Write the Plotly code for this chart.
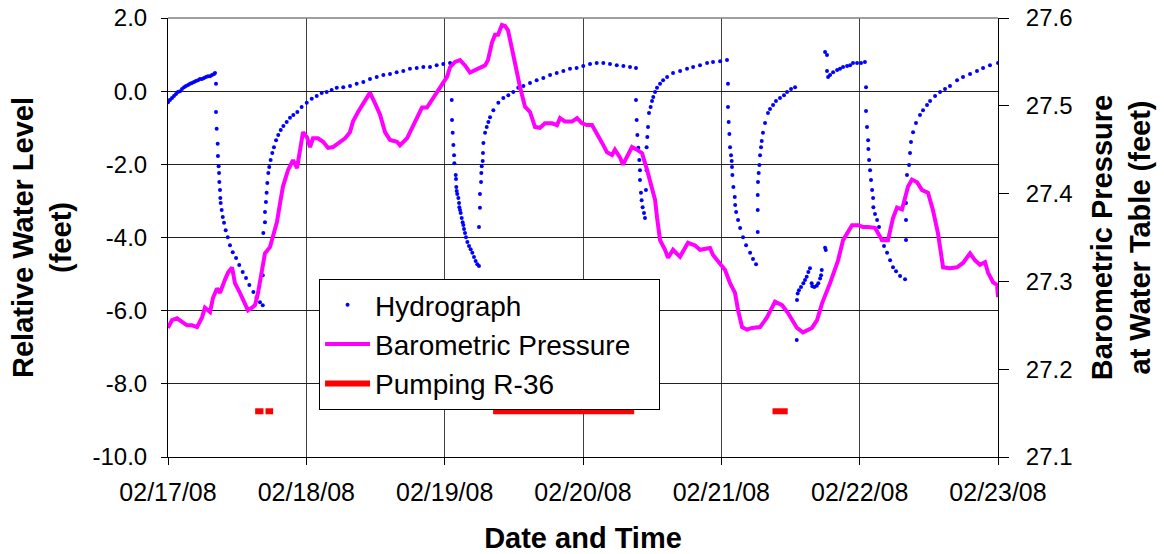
import pandas as pd
import plotly.graph_objects as go

# ---------------- data (days since 02/17/08 00:00) ----------------
hydro_day = [
    0.000, 0.014, 0.029, 0.043, 0.058, 0.072, 0.087, 0.101, 0.116, 0.130, 0.145, 0.159, 0.173, 0.188,
    0.202, 0.217, 0.231, 0.246, 0.260, 0.275, 0.289, 0.304, 0.318, 0.333, 0.340,
    0.347, 0.347, 0.352, 0.359, 0.361, 0.366, 0.369, 0.371, 0.376, 0.378, 0.381, 0.388, 0.396, 0.405,
    0.417, 0.432, 0.448, 0.468, 0.492, 0.515, 0.540, 0.564, 0.588, 0.617, 0.641, 0.665, 0.685,
    0.685, 0.689, 0.701, 0.701, 0.708, 0.713, 0.718, 0.725, 0.732, 0.742, 0.754, 0.766, 0.781, 0.797,
    0.815, 0.834, 0.858, 0.882, 0.906, 0.935, 0.966, 1.003, 1.039, 1.075, 1.111, 1.147, 1.183, 1.220,
    1.267, 1.316, 1.364, 1.412, 1.460, 1.509, 1.557, 1.605, 1.653, 1.701, 1.749, 1.798, 1.846, 1.894,
    1.942, 1.990, 2.039,
    2.051, 2.053, 2.058, 2.063, 2.068, 2.070, 2.080, 2.082, 2.084, 2.087, 2.091, 2.099, 2.104, 2.106,
    2.111, 2.116, 2.123, 2.130, 2.135, 2.140, 2.147, 2.154, 2.164, 2.176, 2.188, 2.200, 2.212, 2.224,
    2.236, 2.248,
    2.248, 2.255, 2.255, 2.263, 2.265, 2.268, 2.275, 2.277, 2.280, 2.292, 2.304, 2.316, 2.328, 2.352,
    2.388, 2.424, 2.460, 2.496, 2.532, 2.569, 2.617, 2.665, 2.713, 2.762, 2.810, 2.858, 2.906, 2.954,
    3.002, 3.051, 3.099, 3.147, 3.195, 3.244, 3.292, 3.340, 3.383,
    3.383, 3.388, 3.393, 3.400, 3.407, 3.412, 3.412, 3.419, 3.424, 3.431, 3.441, 3.448,
    3.455, 3.460, 3.460, 3.465, 3.470, 3.477, 3.489, 3.499, 3.508, 3.521, 3.535, 3.557, 3.579, 3.608,
    3.651, 3.702, 3.752, 3.796, 3.846, 3.897, 3.940, 3.991, 4.041,
    4.048, 4.048, 4.053, 4.058, 4.063, 4.070, 4.075, 4.077, 4.080, 4.087, 4.097, 4.100, 4.107, 4.121,
    4.136, 4.157, 4.179, 4.208, 4.229, 4.251,
    4.263, 4.263, 4.263, 4.265, 4.270, 4.275, 4.280, 4.287, 4.292, 4.301, 4.316, 4.337, 4.352, 4.374,
    4.395, 4.424, 4.453, 4.475, 4.504, 4.533,
    4.545, 4.547, 4.552, 4.561, 4.576, 4.593, 4.605, 4.617, 4.629, 4.641, 4.653, 4.658, 4.672, 4.690,
    4.701, 4.714, 4.721, 4.726, 4.750, 4.755,
    4.750, 4.764, 4.764, 4.772, 4.786, 4.808, 4.837, 4.858, 4.880, 4.909, 4.931, 4.952, 4.981, 5.010,
    5.038,
    5.046, 5.046, 5.053, 5.061, 5.063, 5.068, 5.075, 5.082, 5.090, 5.097, 5.099, 5.111, 5.126, 5.140,
    5.162, 5.176, 5.198, 5.220, 5.241, 5.263, 5.292, 5.328,
    5.335, 5.335, 5.335, 5.342, 5.357, 5.364, 5.371, 5.386, 5.407, 5.436, 5.458, 5.487, 5.509, 5.545,
    5.581, 5.617, 5.653, 5.704, 5.747, 5.798, 5.848, 5.892, 5.942, 6.000,
]
hydro_ft = [
    -0.30, -0.24, -0.19, -0.13, -0.08, -0.02, 0.00, 0.06, 0.11, 0.14, 0.17, 0.20, 0.22, 0.25,
    0.28, 0.30, 0.33, 0.33, 0.36, 0.39, 0.41, 0.41, 0.44, 0.47, 0.50,
    0.20, -0.57, -1.03, -1.44, -1.77, -2.05, -2.24, -2.48, -2.70, -2.92, -3.06, -3.25, -3.44, -3.60,
    -3.80, -3.99, -4.21, -4.40, -4.56, -4.75, -4.94, -5.11, -5.30, -5.49, -5.63, -5.77, -5.85,
    -5.03, -3.88, -3.58, -3.30, -3.03, -2.78, -2.51, -2.24, -2.07, -1.88, -1.69, -1.53, -1.34, -1.20,
    -1.06, -0.95, -0.84, -0.73, -0.65, -0.57, -0.43, -0.32, -0.21, -0.13, -0.05, -0.02, 0.03, 0.09,
    0.11, 0.14, 0.20, 0.25, 0.33, 0.39, 0.44, 0.47, 0.52, 0.55, 0.61, 0.63, 0.66, 0.66,
    0.71, 0.74, 0.77,
    -0.24, -0.79, -1.14, -1.47, -1.75, -1.97, -2.29, -2.40, -2.62, -2.73, -2.81, -2.92, -3.06, -3.17,
    -3.25, -3.33, -3.47, -3.58, -3.66, -3.77, -3.88, -3.99, -4.12, -4.23, -4.32, -4.42, -4.53, -4.64,
    -4.73, -4.78,
    -3.71, -3.19, -2.81, -2.48, -2.24, -2.05, -1.91, -1.69, -1.42, -1.14, -0.98, -0.84, -0.71, -0.52,
    -0.32, -0.19, -0.11, -0.02, 0.09, 0.14, 0.22, 0.30, 0.36, 0.44, 0.50, 0.55, 0.61, 0.63,
    0.69, 0.74, 0.77, 0.77, 0.74, 0.71, 0.69, 0.66, 0.63,
    -0.24, -0.79, -1.20, -1.55, -1.88, -2.16, -2.43, -2.78, -2.98, -3.17, -3.33, -3.47,
    -2.70, -2.16, -1.53, -1.25, -0.98, -0.60, -0.43, -0.27, -0.16, -0.02, 0.09, 0.20, 0.30, 0.39,
    0.50, 0.55, 0.61, 0.66, 0.71, 0.77, 0.80, 0.82, 0.85,
    0.20, -0.43, -0.84, -1.17, -1.53, -1.75, -1.91, -2.07, -2.29, -2.62, -2.89, -3.11, -3.30, -3.52,
    -3.74, -3.99, -4.21, -4.42, -4.59, -4.73,
    -3.85, -3.25, -2.84, -2.48, -2.24, -2.02, -1.75, -1.53, -1.36, -1.14, -0.87, -0.60, -0.49, -0.38,
    -0.27, -0.19, -0.11, -0.02, 0.06, 0.11,
    -6.80, -5.71, -5.53, -5.44, -5.35, -5.25, -5.16, -5.07, -4.94, -4.84, -5.25, -5.33, -5.35, -5.32,
    -5.25, -5.12, -5.03, -4.89, -4.28, -4.34,
    1.07, 0.99, 0.55, 0.39, 0.44, 0.52, 0.58, 0.61, 0.66, 0.69, 0.71, 0.77, 0.77, 0.77,
    0.80,
    0.11, -0.54, -0.98, -1.34, -1.58, -1.88, -2.16, -2.43, -2.70, -2.92, -3.17, -3.36, -3.52, -3.71,
    -4.07, -4.23, -4.42, -4.62, -4.81, -4.92, -5.05, -5.14,
    -4.07, -3.52, -3.06, -2.29, -2.02, -1.69, -1.39, -1.12, -0.87, -0.65, -0.52, -0.38, -0.27, -0.13,
    -0.02, 0.06, 0.14, 0.30, 0.39, 0.47, 0.55, 0.63, 0.71, 0.77,
]

baro_day = [
    0.000, 0.029, 0.065, 0.101, 0.137, 0.173, 0.210, 0.246, 0.267, 0.304, 0.325, 0.354, 0.376, 0.412,
    0.434, 0.463, 0.484, 0.520, 0.557, 0.578, 0.607, 0.629, 0.651, 0.680, 0.701, 0.737, 0.759, 0.788,
    0.810, 0.831, 0.868, 0.904, 0.933, 0.954, 0.976, 1.005, 1.027, 1.048, 1.084, 1.121, 1.157, 1.193,
    1.243, 1.280, 1.316, 1.337, 1.374, 1.410, 1.460, 1.496, 1.533, 1.569, 1.605, 1.655, 1.677, 1.728,
    1.764, 1.800, 1.836, 1.872, 1.908, 1.945, 1.981, 2.017, 2.039, 2.075, 2.111, 2.147, 2.183, 2.219,
    2.255, 2.292, 2.313, 2.342, 2.364, 2.386, 2.414, 2.436, 2.458, 2.487, 2.508, 2.545, 2.581, 2.617,
    2.653, 2.689, 2.725, 2.776, 2.812, 2.834, 2.870, 2.921, 2.957, 2.993, 3.029, 3.065, 3.101, 3.137,
    3.174, 3.210, 3.231, 3.268, 3.289, 3.318, 3.354, 3.390, 3.427, 3.463, 3.499, 3.521, 3.535, 3.557,
    3.593, 3.615, 3.651, 3.701, 3.759, 3.810, 3.846, 3.918, 3.940, 3.990, 4.027, 4.063, 4.099, 4.121,
    4.150, 4.186, 4.222, 4.280, 4.330, 4.388, 4.439, 4.482, 4.547, 4.590, 4.655, 4.692, 4.728, 4.786,
    4.844, 4.880, 4.945, 4.988, 5.024, 5.060, 5.111, 5.162, 5.205, 5.241, 5.270, 5.306, 5.328, 5.350,
    5.378, 5.415, 5.451, 5.494, 5.530, 5.566, 5.603, 5.653, 5.704, 5.747, 5.798, 5.834, 5.870, 5.906,
    5.928, 5.964, 5.993, 6.000,
]
baro_ft = [
    27.247, 27.256, 27.258, 27.254, 27.250, 27.250, 27.248, 27.259, 27.270, 27.265, 27.281, 27.292,
    27.287, 27.302, 27.310, 27.316, 27.298, 27.287, 27.275, 27.267, 27.270, 27.273, 27.287, 27.310,
    27.332, 27.339, 27.351, 27.368, 27.389, 27.408, 27.427, 27.438, 27.429, 27.450, 27.470, 27.464,
    27.453, 27.463, 27.463, 27.459, 27.452, 27.453, 27.458, 27.463, 27.470, 27.482, 27.493, 27.503,
    27.515, 27.503, 27.490, 27.470, 27.461, 27.459, 27.455, 27.463, 27.475, 27.486, 27.498, 27.498,
    27.507, 27.516, 27.524, 27.533, 27.544, 27.550, 27.552, 27.546, 27.538, 27.541, 27.544, 27.546,
    27.552, 27.572, 27.581, 27.581, 27.592, 27.591, 27.586, 27.567, 27.549, 27.521, 27.499, 27.493,
    27.476, 27.475, 27.480, 27.480, 27.478, 27.486, 27.482, 27.482, 27.486, 27.480, 27.478, 27.478,
    27.469, 27.458, 27.447, 27.444, 27.450, 27.441, 27.433, 27.442, 27.453, 27.450, 27.446, 27.427,
    27.408, 27.393, 27.373, 27.347, 27.336, 27.327, 27.336, 27.328, 27.344, 27.341, 27.336, 27.338,
    27.330, 27.321, 27.313, 27.298, 27.287, 27.267, 27.248, 27.245, 27.247, 27.248, 27.259, 27.277,
    27.273, 27.264, 27.247, 27.242, 27.247, 27.256, 27.275, 27.298, 27.324, 27.347, 27.364, 27.364,
    27.362, 27.362, 27.361, 27.347, 27.347, 27.372, 27.384, 27.382, 27.396, 27.408, 27.416, 27.413,
    27.404, 27.401, 27.381, 27.355, 27.316, 27.315, 27.316, 27.321, 27.332, 27.324, 27.319, 27.322,
    27.310, 27.299, 27.296, 27.282,
]

pump_start = [0.630, 0.705, 2.350, 4.370]
pump_end = [0.690, 0.760, 3.370, 4.480]
pump_level = -8.75

y_ticks = [-10, -8, -6, -4, -2, 0, 2]
y2_ticks = [27.1, 27.2, 27.3, 27.4, 27.5, 27.6]

start = pd.Timestamp("2008-02-17")


def to_dt(days):
    return [None if d is None else start + pd.Timedelta(days=d) for d in days]


pump_x, pump_y = [], []
for s, e in zip(pump_start, pump_end):
    pump_x += [s, e, None]
    pump_y += [pump_level, pump_level, None]

FONT = "Arial, Liberation Sans, sans-serif"
NBSP = "\u00a0"

fig = go.Figure()
fig.add_trace(go.Scatter(
    x=to_dt(hydro_day), y=hydro_ft, mode="markers", name="Hydrograph",
    marker=dict(color="#0000FF", size=4, line=dict(width=0)),
))
fig.add_trace(go.Scatter(
    x=to_dt(baro_day), y=baro_ft, mode="lines", name="Barometric Pressure" + NBSP * 3, yaxis="y2",
    line=dict(color="#FF00FF", width=4),
))
fig.add_trace(go.Scatter(
    x=to_dt(pump_x), y=pump_y, mode="lines", name="Pumping R-36",
    line=dict(color="#FF0000", width=6), connectgaps=False,
))

fig.update_layout(
    width=1164, height=554,
    margin=dict(l=168, r=166, t=18, b=97, autoexpand=False),
    paper_bgcolor="white", plot_bgcolor="white",
    font=dict(family=FONT, size=24, color="black"),
    showlegend=True,
    legend=dict(
        x=0.182, y=0.4055, xanchor="left", yanchor="top",
        bgcolor="white", bordercolor="black", borderwidth=1,
        font=dict(family=FONT, size=28, color="black"),
        tracegroupgap=0, itemwidth=45,
    ),
    xaxis=dict(
        type="date", automargin=False,
        range=[start, start + pd.Timedelta(days=6)],
        dtick=86400000, tick0=start, tickformat="%m/%d/%y",
        showgrid=True, gridcolor="#404040", gridwidth=1,
        showline=True, linecolor="black", linewidth=1,
        ticks="outside", ticklen=7, tickcolor="black",
        ticklabelstandoff=6,
        tickfont=dict(family=FONT, size=25),
        title=dict(text="<b>Date and Time</b>", font=dict(family=FONT, size=29), standoff=25),
        zeroline=False,
    ),
    yaxis=dict(
        automargin=False,
        range=[-10, 2], tickvals=y_ticks, ticktext=[f"{v:.1f}" for v in y_ticks],
        showgrid=True, gridcolor="#202020", gridwidth=1,
        showline=True, linecolor="black", linewidth=1,
        ticks="outside", ticklen=6, tickcolor="black",
        ticklabelstandoff=9,
        tickfont=dict(family=FONT, size=24),
        title=dict(text="<b>Relative Water Level<br>(feet)</b>", font=dict(family=FONT, size=29), standoff=12),
        zeroline=False,
    ),
    yaxis2=dict(
        overlaying="y", side="right", automargin=False,
        range=[27.1, 27.6], tickvals=y2_ticks, ticktext=[f"{v:.1f}" for v in y2_ticks],
        showgrid=False,
        showline=True, linecolor="black", linewidth=1,
        ticks="outside", ticklen=10, tickcolor="black",
        ticklabelstandoff=12,
        tickfont=dict(family=FONT, size=24),
        title=dict(text="<b>Barometric Pressure<br>at Water Table (feet)</b>", font=dict(family=FONT, size=29), standoff=20),
        zeroline=False,
    ),
)

# top border of plot area
fig.add_shape(type="line", xref="paper", yref="paper", x0=0, x1=1, y0=1, y1=1,
              line=dict(color="#808080", width=1.5))

fig.write_html(
    "out.html",
    config={"displayModeBar": False},
    post_script="document.body.style.margin='0';document.body.style.overflow='hidden';",
)
